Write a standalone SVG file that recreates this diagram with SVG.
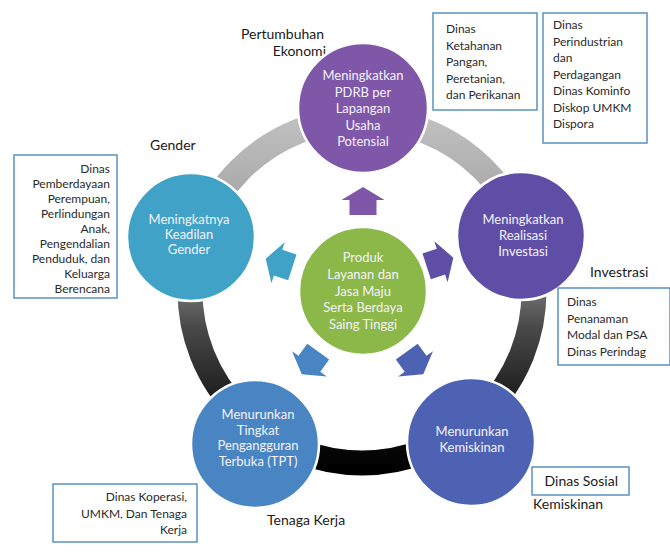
<svg xmlns="http://www.w3.org/2000/svg" width="670" height="553" viewBox="0 0 670 553">
<defs>
<linearGradient id="ringGrad" gradientUnits="userSpaceOnUse" x1="0" y1="110" x2="0" y2="470">
<stop offset="0" stop-color="#c2c2c2"/>
<stop offset="0.4" stop-color="#999"/>
<stop offset="0.6" stop-color="#4a4a4a"/>
<stop offset="0.85" stop-color="#121212"/>
<stop offset="1" stop-color="#000"/>
</linearGradient>
<path id="arr" d="M0,-14 L21.5,-1 L13.5,-1 L13.5,14 L-13.5,14 L-13.5,-1 L-21.5,-1 Z"/>
</defs>
<style>
.c{stroke:#fff;stroke-width:2.5}
.ct{font-family:Lato,"Open Sans",sans-serif;font-size:13px;fill:#f4f2fa;text-anchor:middle}
.lb{font-family:Lato,"Open Sans",sans-serif;font-size:14px;fill:#1a1a1a}
.bx{fill:#fff;stroke:#5b93c0;stroke-width:1.5}
.bt{font-family:Lato,"Open Sans",sans-serif;font-size:12px;fill:#2a2a2a}
.r{text-anchor:end}
</style>
<rect width="670" height="553" fill="#fff"/>
<g id="cycle-ring">
<circle cx="362" cy="291" r="172" fill="none" stroke="url(#ringGrad)" stroke-width="25"/>
</g>
<g id="label-pertumbuhan">
<text class="lb" x="241" y="39">Pertumbuhan</text>
<text class="lb r" x="326" y="56">Ekonomi</text>
</g>
<g id="node-pdrb">
<circle class="c" cx="363" cy="108" r="65" fill="#7e57a8"/>
<text class="ct"><tspan x="363" y="80">Meningkatkan</tspan><tspan x="363" y="96.5">PDRB per</tspan><tspan x="363" y="113">Lapangan</tspan><tspan x="363" y="129.5">Usaha</tspan><tspan x="363" y="146">Potensial</tspan></text>
</g>
<g id="node-investasi">
<circle class="c" cx="521" cy="236" r="64" fill="#5e4ea6"/>
<text class="ct"><tspan x="523" y="224">Meningkatkan</tspan><tspan x="523" y="240">Realisasi</tspan><tspan x="523" y="256">Investasi</tspan></text>
</g>
<g id="node-kemiskinan">
<circle class="c" cx="471" cy="442" r="64" fill="#4d62b3"/>
<text class="ct"><tspan x="472" y="436">Menurunkan</tspan><tspan x="472" y="452">Kemiskinan</tspan></text>
</g>
<g id="node-tpt">
<circle class="c" cx="255" cy="444" r="64" fill="#4a85c3"/>
<text class="ct"><tspan x="258" y="419">Menurunkan</tspan><tspan x="258" y="434.5">Tingkat</tspan><tspan x="258" y="450">Pengangguran</tspan><tspan x="258" y="465.5">Terbuka (TPT)</tspan></text>
</g>
<g id="node-gender">
<circle class="c" cx="191" cy="237" r="64" fill="#3fa2c6"/>
<text class="ct"><tspan x="189" y="224">Meningkatnya</tspan><tspan x="189" y="239">Keadilan</tspan><tspan x="189" y="254">Gender</tspan></text>
</g>
<g id="node-center">
<circle class="c" cx="363" cy="291" r="64" fill="#8cb84a"/>
<text class="ct"><tspan x="363" y="262">Produk</tspan><tspan x="363" y="279">Layanan dan</tspan><tspan x="363" y="296">Jasa Maju</tspan><tspan x="363" y="312">Serta Berdaya</tspan><tspan x="363" y="329">Saing Tinggi</tspan></text>
</g>
<g id="connectors">
<use href="#arr" fill="#7e57a8" transform="translate(363,201)"/>
<use href="#arr" fill="#5e4ea6" transform="translate(440,262) rotate(72)"/>
<use href="#arr" fill="#4d62b3" transform="translate(415,363) rotate(144)"/>
<use href="#arr" fill="#4a85c3" transform="translate(310,363) rotate(216)"/>
<use href="#arr" fill="#3fa2c6" transform="translate(279,263) rotate(288)"/>
</g>
<g id="box-ketahanan">
<rect class="bx" x="433" y="13" width="104" height="97"/>
<text class="bt"><tspan x="446" y="33">Dinas</tspan><tspan x="446" y="49.5">Ketahanan</tspan><tspan x="446" y="66">Pangan,</tspan><tspan x="446" y="82.5">Peretanian,</tspan><tspan x="446" y="99">dan Perikanan</tspan></text>
</g>
<g id="box-perindustrian">
<rect class="bx" x="543" y="13" width="104" height="130"/>
<text class="bt"><tspan x="553" y="29">Dinas</tspan><tspan x="553" y="46">Perindustrian</tspan><tspan x="553" y="62">dan</tspan><tspan x="553" y="79">Perdagangan</tspan><tspan x="553" y="95">Dinas Kominfo</tspan><tspan x="553" y="112">Diskop UMKM</tspan><tspan x="553" y="128">Dispora</tspan></text>
</g>
<g id="label-gender">
<text class="lb" x="150" y="150">Gender</text>
</g>
<g id="box-gender">
<rect class="bx" x="14" y="155" width="103" height="143"/>
<text class="bt r"><tspan x="110" y="173">Dinas</tspan><tspan x="110" y="188">Pemberdayaan</tspan><tspan x="110" y="203">Perempuan,</tspan><tspan x="110" y="218">Perlindungan</tspan><tspan x="110" y="233">Anak,</tspan><tspan x="110" y="248">Pengendalian</tspan><tspan x="110" y="263">Penduduk, dan</tspan><tspan x="110" y="278">Keluarga</tspan><tspan x="110" y="293">Berencana</tspan></text>
</g>
<g id="label-investasi">
<text class="lb" x="590" y="277">Investrasi</text>
</g>
<g id="box-investasi">
<rect class="bx" x="558" y="288" width="112" height="77"/>
<text class="bt"><tspan x="567" y="306">Dinas</tspan><tspan x="567" y="322.5">Penanaman</tspan><tspan x="567" y="339">Modal dan PSA</tspan><tspan x="567" y="355.5">Dinas Perindag</tspan></text>
</g>
<g id="box-sosial">
<rect class="bx" x="532" y="467" width="97" height="28"/>
<text class="lb r" x="618" y="486">Dinas Sosial</text>
</g>
<g id="label-kemiskinan">
<text class="lb" x="533" y="509">Kemiskinan</text>
</g>
<g id="box-koperasi">
<rect class="bx" x="53" y="484" width="144" height="58"/>
<text class="bt r"><tspan x="187" y="501">Dinas Koperasi,</tspan><tspan x="187" y="518">UMKM, Dan Tenaga</tspan><tspan x="187" y="534">Kerja</tspan></text>
</g>
<g id="label-tenaga">
<text class="lb" x="267" y="525">Tenaga Kerja</text>
</g>
</svg>
